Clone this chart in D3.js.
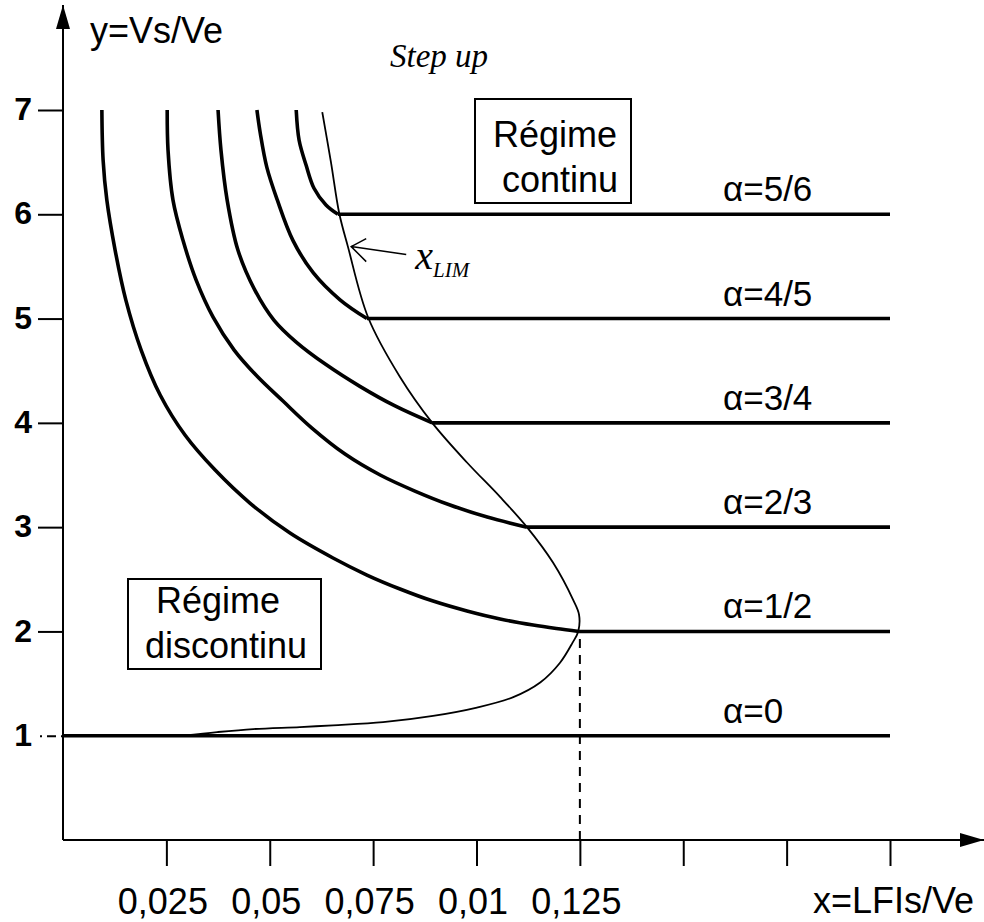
<!DOCTYPE html>
<html lang="fr">
<head>
  <meta charset='utf-8'>
  <script src='https://cdn.jsdelivr.net/npm/d3@7/dist/d3.min.js'></script>
  <style>
    body { margin: 0; background: #fff; }
    svg { display: block; background: #fff; font-family: 'Liberation Sans', Arial, sans-serif; }

    .axis path { display: none; }
    .axis line { stroke: #000; stroke-width: 2px; }
    .axis text { fill: #000; }

    .curve { fill: none; stroke: #000; stroke-width: 3.6px; stroke-linejoin: round; stroke-linecap: butt; }
    .limit { fill: none; stroke: #000; stroke-width: 1.8px; }
    .box { fill: none; stroke: #000; stroke-width: 2px; }
  </style>
</head>
<body>
  <div id='chart'></div>
  <script>
    // Axis ticks.
    var xTicks = [0.025, 0.05, 0.075, 0.1, 0.125, 0.15, 0.175, 0.2];
    var xTickLabels = ['0,025', '0,05', '0,075', '0,01', '0,125', '', '', ''];
    var yTicks = [1, 2, 3, 4, 5, 6, 7];

    // Duty cycle labels and the level of each horizontal (continuous mode) line.
    var alphaLabels = ['\u03b1=0', '\u03b1=1/2', '\u03b1=2/3', '\u03b1=3/4', '\u03b1=4/5', '\u03b1=5/6'];
    var alphaLevels = [1, 2, 3, 4, 5, 6];
    var xEnd = 0.2;

    // Discontinuous mode curves, [x, y].
    var curveHalf = [[0.0094, 7.0], [0.0097, 6.52], [0.0106, 6.136], [0.0126, 5.657], [0.0152, 5.177],
      [0.0189, 4.698], [0.0235, 4.267], [0.0295, 3.883], [0.0368, 3.547], [0.0452, 3.231], [0.0549, 2.943],
      [0.0653, 2.704], [0.0735, 2.541], [0.0815, 2.407], [0.0895, 2.291], [0.0977, 2.196], [0.1057, 2.119],
      [0.1137, 2.061], [0.1193, 2.028], [0.1248, 2.0]];
    var curveTwoThirds = [[0.0252, 7.0], [0.0254, 6.616], [0.0266, 6.136], [0.0290, 5.753], [0.0322, 5.369],
      [0.0363, 5.014], [0.0414, 4.698], [0.0469, 4.449], [0.0532, 4.209], [0.0602, 3.950], [0.0682, 3.701],
      [0.0767, 3.500], [0.0851, 3.346], [0.0936, 3.212], [0.1026, 3.097], [0.1122, 3.0]];
    var curveThreeQuarters = [[0.0375, 7.0], [0.0382, 6.616], [0.0397, 6.136], [0.0423, 5.657], [0.0464, 5.273],
      [0.0510, 4.986], [0.0564, 4.775], [0.0636, 4.559], [0.0718, 4.350], [0.0803, 4.162], [0.0893, 4.0]];
    var curveFourFifths = [[0.0469, 7.0], [0.0477, 6.78], [0.0493, 6.45], [0.0518, 6.14], [0.0556, 5.75],
      [0.0605, 5.44], [0.0670, 5.18], [0.0735, 5.0]];
    var curveFiveSixths = [[0.0564, 7.0], [0.0571, 6.71], [0.0588, 6.47], [0.0607, 6.25], [0.0636, 6.09],
      [0.0665, 6.0]];

    // Boundary between the two modes (x LIM).
    var xLim = [[0.0627, 6.98], [0.0648, 6.50], [0.0668, 6.01], [0.0689, 5.69], [0.0738, 5.01],
      [0.0815, 4.44], [0.0893, 4.0], [0.0977, 3.62], [0.1057, 3.29], [0.1122, 3.0], [0.1185, 2.66],
      [0.1234, 2.30], [0.1248, 2.16], [0.1246, 2.0], [0.1232, 1.89], [0.1202, 1.70], [0.1154, 1.51],
      [0.1089, 1.37], [0.1001, 1.27], [0.0895, 1.19], [0.0774, 1.13], [0.0653, 1.10], [0.0573, 1.083],
      [0.0460, 1.064], [0.0373, 1.035], [0.0290, 1.0]];
    var xLimArrowAt = [0.0697, 5.69];

    var dashedX = 0.125;
    var dashedY = [0, 2];

    var curves = [null, curveHalf, curveTwoThirds, curveThreeQuarters, curveFourFifths, curveFiveSixths];

    var width = 984,
      height = 922;

    var svg = d3.select('#chart')
      .append('svg')
      .attr('width', width)
      .attr('height', height);

    var xScale = d3.scaleLinear()
      .domain([0, 0.2])
      .range([63, 890]);

    var yScale = d3.scaleLinear()
      .domain([0, 7])
      .range([840, 110]);

    // Arrow heads for the axes.
    svg.append('defs')
      .append('marker')
      .attr('id', 'arrow')
      .attr('markerUnits', 'userSpaceOnUse')
      .attr('viewBox', '0 -8 24 16')
      .attr('markerWidth', 24)
      .attr('markerHeight', 16)
      .attr('refX', 24)
      .attr('refY', 0)
      .attr('orient', 'auto')
      .append('path')
      .attr('d', 'M0,-7L24,0L0,7Z')
      .attr('fill', '#000');

    // Axes.
    var xAxis = svg.append('g')
      .attr('class', 'axis')
      .attr('transform', 'translate(0,' + yScale(0) + ')')
      .call(d3.axisBottom(xScale)
        .tickValues(xTicks)
        .tickSize(26)
        .tickSizeOuter(0)
        .tickFormat(function(d, i) { return xTickLabels[i]; }));

    xAxis.selectAll('text')
      .attr('y', 74)
      .attr('dy', 0)
      .attr('dx', -4)
      .style('font-size', '36px');

    var yAxis = svg.append('g')
      .attr('class', 'axis')
      .attr('transform', 'translate(' + xScale(0) + ',0)')
      .call(d3.axisLeft(yScale)
        .tickValues(yTicks)
        .tickSize(25)
        .tickSizeOuter(0)
        .tickFormat(d3.format('d')));

    yAxis.selectAll('text')
      .attr('x', -31)
      .attr('dy', '0.3em')
      .style('font-size', '32px')
      .style('font-weight', 'bold');

    yAxis.selectAll('.tick')
      .filter(function(d) { return d === 1; })
      .select('line')
      .style('stroke-dasharray', '2,5,9,5');

    svg.append('line')
      .attr('x1', xScale(0))
      .attr('y1', yScale(0))
      .attr('x2', width)
      .attr('y2', yScale(0))
      .attr('stroke', '#000')
      .attr('stroke-width', 2)
      .attr('marker-end', 'url(#arrow)');

    svg.append('line')
      .attr('x1', xScale(0))
      .attr('y1', yScale(0))
      .attr('x2', xScale(0))
      .attr('y2', 5)
      .attr('stroke', '#000')
      .attr('stroke-width', 2)
      .attr('marker-end', 'url(#arrow)');

    // Axis titles.
    svg.append('text')
      .attr('x', 90)
      .attr('y', 43)
      .style('font-size', '36px')
      .text('y=Vs/Ve');

    svg.append('text')
      .attr('x', 813)
      .attr('y', 913)
      .style('font-size', '36px')
      .text('x=LFIs/Ve');

    // Dashed line at x = 0.125.
    svg.append('line')
      .attr('x1', xScale(dashedX))
      .attr('x2', xScale(dashedX))
      .attr('y1', yScale(dashedY[0]))
      .attr('y2', yScale(dashedY[1]))
      .attr('stroke', '#000')
      .attr('stroke-width', 2)
      .attr('stroke-dasharray', '9,7');

    var line = d3.line()
      .x(function(d) { return xScale(d[0]); })
      .y(function(d) { return yScale(d[1]); });

    // Curves and horizontal lines for each alpha.
    alphaLevels.forEach(function(level, i) {
      var pts = curves[i];
      var start = pts ? pts[pts.length - 1][0] : 0;

      if (pts) {
        svg.append('path')
          .attr('class', 'curve')
          .attr('d', line.curve(d3.curveCatmullRom.alpha(0.5))(pts));
      }

      svg.append('path')
        .attr('class', 'curve')
        .attr('d', line.curve(d3.curveLinear)([[start, level], [xEnd, level]]));

      svg.append('text')
        .attr('x', 723)
        .attr('y', yScale(level) - 13)
        .style('font-size', '35px')
        .text(alphaLabels[i]);
    });

    // Mode boundary.
    svg.append('path')
      .attr('class', 'limit')
      .attr('d', line.curve(d3.curveCatmullRom.alpha(0.5))(xLim));

    // x LIM annotation with an open arrow head.
    var ax = xScale(xLimArrowAt[0]),
      ay = yScale(xLimArrowAt[1]);

    svg.append('path')
      .attr('fill', 'none')
      .attr('stroke', '#000')
      .attr('stroke-width', 1.5)
      .attr('d', 'M' + (ax + 55) + ',' + (ay + 8) + 'L' + ax + ',' + ay +
        'M' + (ax + 15) + ',' + (ay - 8) + 'L' + ax + ',' + ay + 'L' + (ax + 15) + ',' + (ay + 15));

    var lim = svg.append('text')
      .attr('x', ax + 64)
      .attr('y', ay + 22)
      .style('font-family', "'Liberation Serif', 'Times New Roman', serif")
      .style('font-style', 'italic');

    lim.append('tspan')
      .style('font-size', '40px')
      .text('x');

    lim.append('tspan')
      .attr('dy', 8)
      .style('font-size', '21px')
      .text('LIM');

    // Title.
    svg.append('text')
      .attr('x', 390)
      .attr('y', 67)
      .style('font-family', "'Liberation Serif', 'Times New Roman', serif")
      .style('font-style', 'italic')
      .style('font-size', '33px')
      .text('Step up');

    // Mode boxes.
    var boxes = [
      { x: 475, y: 99, w: 156, h: 104, lines: ['R\u00e9gime', 'continu'], cx: [555, 560] },
      { x: 128, y: 579, w: 193, h: 90, lines: ['R\u00e9gime', 'discontinu'], cx: [218, 226] }
    ];

    boxes.forEach(function(b) {
      svg.append('rect')
        .attr('class', 'box')
        .attr('x', b.x)
        .attr('y', b.y)
        .attr('width', b.w)
        .attr('height', b.h);

      b.lines.forEach(function(t, i) {
        svg.append('text')
          .attr('x', b.cx[i])
          .attr('y', b.y + (b.h > 100 ? 48 : 34) + i * 45)
          .attr('text-anchor', 'middle')
          .style('font-size', '36px')
          .text(t);
      });
    });
  </script>
</body>
</html>
